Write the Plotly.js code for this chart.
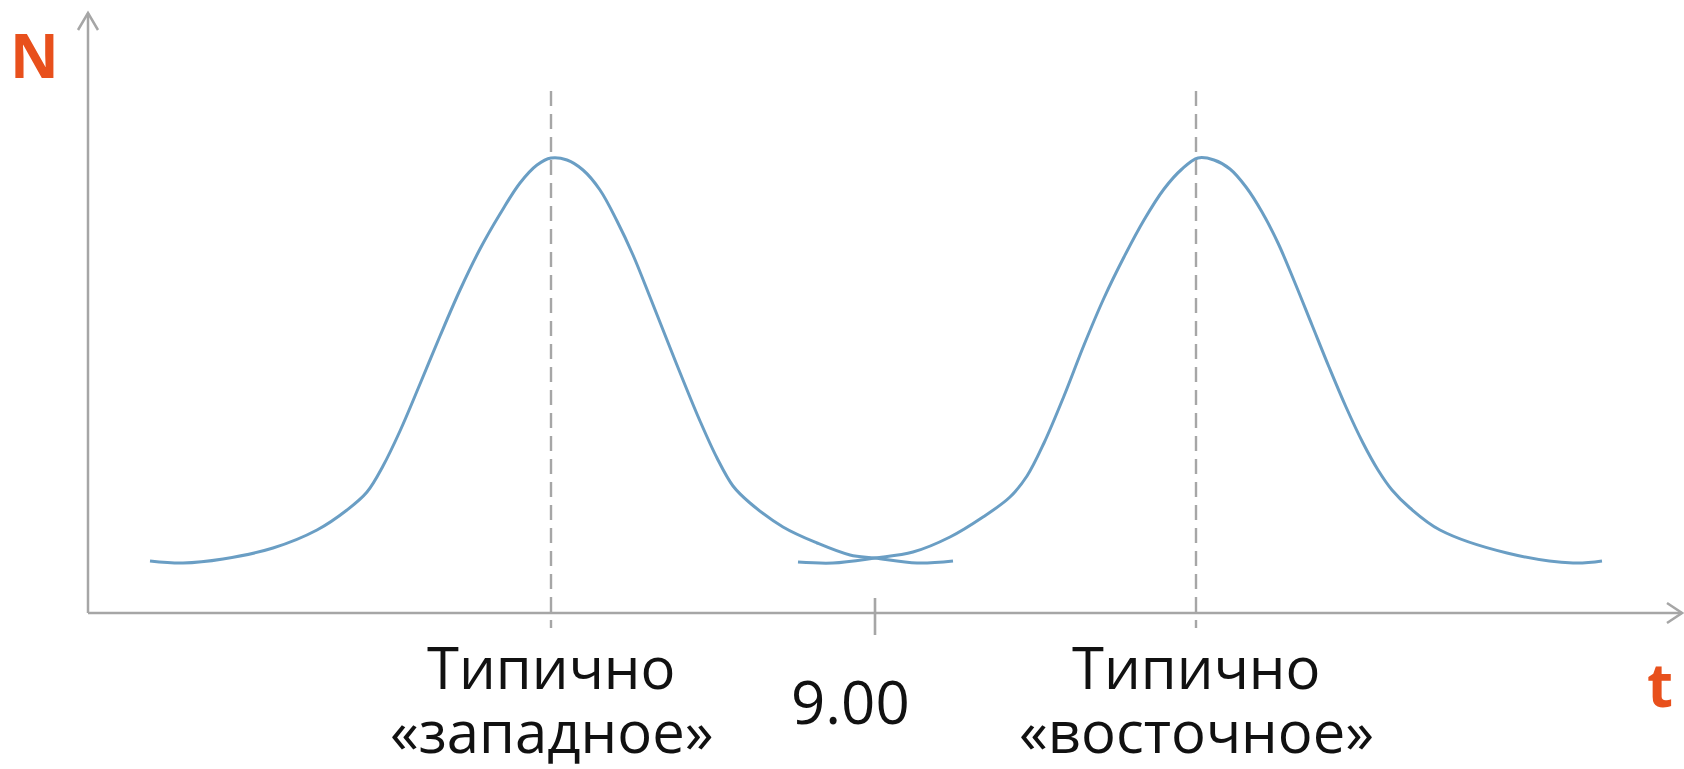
<!DOCTYPE html>
<html>
<head>
<meta charset="utf-8">
<script src="https://cdn.plot.ly/plotly-3.0.1.min.js"></script>
<style>html,body{margin:0;padding:0;background:#fff;}#chart{width:1684px;height:769px;}</style>
</head>
<body>
<div id="chart"></div>
<script>
// Curve points (x = horizontal position, y = vertical position, screen-like units, y grows downward)
const westX = [150,183,223,273,317,347,367,383,400,420,440,460,480,500,520,537,551,567,583,600,617,633,650,667,683,700,717,733,750,783,817,850,875,917,953];
const westY = [561,563,559,548,530,510,492,466,431,384,336,290,249,214,183,165,158,160,170,190,221,255,297,340,380,421,458,486,503,527,543,555,558,563,561];
const eastX = [798,833,875,913,950,983,1010,1027,1044,1064,1084,1104,1124,1144,1164,1182,1198,1214,1230,1246,1262,1278,1295,1312,1329,1346,1363,1378,1392,1410,1440,1507,1573,1602];
const eastY = [562,563,558,552,537,517,497,476,443,396,345,298,257,220,189,169,158,160,169,187,212,243,283,325,367,407,443,470,490,508,530,553,563,561];

const peakX = [551, 1196];          // dashed guide lines at the peaks
const tickX = [875];                 // the 9.00 tick
const tickLabels = ['9.00'];
const labelLine1 = ['Типично', 'Типично'];
const labelLine2 = ['«западное»', '«восточное»'];
const axisNames = ['N', 't'];

// axis frame (origin, ends)
const originX = 88, originY = 613, xEnd = 1682, yEnd = 13;

const blue = '#6A9EC4';
const grey = '#A6A6A6';
const orange = '#E8501C';
const txtFont = 'Open Sans, Noto Sans, sans-serif';

const curveLine = {color: blue, width: 3, shape: 'spline', smoothing: 1, simplify: false};
const traces = [
  {x: westX, y: westY, mode: 'lines', line: curveLine, hoverinfo: 'skip'},
  {x: eastX, y: eastY, mode: 'lines', line: curveLine, hoverinfo: 'skip'}
];

const shapes = [];
// axes
shapes.push({type: 'line', xref: 'x', yref: 'y', x0: originX, y0: originY, x1: xEnd, y1: originY, line: {color: grey, width: 2.5}});
shapes.push({type: 'line', xref: 'x', yref: 'y', x0: originX, y0: originY, x1: originX, y1: yEnd, line: {color: grey, width: 2.5}});
// arrow heads (open chevrons)
shapes.push({type: 'path', xref: 'x', yref: 'y', path: `M ${originX-10} ${yEnd+17} L ${originX} ${yEnd} L ${originX+10} ${yEnd+17}`, line: {color: grey, width: 2.5}});
shapes.push({type: 'path', xref: 'x', yref: 'y', path: `M ${xEnd-15} ${originY-10} L ${xEnd} ${originY} L ${xEnd-15} ${originY+10}`, line: {color: grey, width: 2.5}});
// dashed guide lines
peakX.forEach(px => shapes.push({type: 'line', xref: 'x', yref: 'y', x0: px, y0: 91, x1: px, y1: 628, line: {color: grey, width: 2.4, dash: '15px,8px'}}));
// tick
tickX.forEach(tx => shapes.push({type: 'line', xref: 'x', yref: 'y', x0: tx, y0: 598, x1: tx, y1: 635, line: {color: grey, width: 2.6}}));

const annotations = [];
const ann = (text, x, y, size, color, bold) => ({
  text: bold ? '<b>' + text + '</b>' : text, x: x, y: y, xref: 'x', yref: 'y',
  showarrow: false, xanchor: 'center', yanchor: 'middle',
  font: {family: txtFont, size: size, color: color}
});
annotations.push(ann(axisNames[0], 34, 55, 60, orange, true));
annotations.push(ann(axisNames[1], 1660, 684, 60, orange, true));
tickLabels.forEach((t, i) => annotations.push(ann(t, 850, 701, 60, '#111111', false)));
peakX.forEach((px, i) => {
  annotations.push(ann(labelLine1[i], px, 666, 58, '#111111', false));
  annotations.push(ann(labelLine2[i], px, 730, 58, '#111111', false));
});

const layout = {
  width: 1684, height: 769,
  margin: {l: 0, r: 0, t: 0, b: 0, pad: 0},
  paper_bgcolor: '#ffffff', plot_bgcolor: '#ffffff',
  showlegend: false,
  xaxis: {range: [0, 1684], visible: false, fixedrange: true},
  yaxis: {range: [769, 0], visible: false, fixedrange: true},
  shapes: shapes,
  annotations: annotations
};

Plotly.newPlot('chart', traces, layout, {staticPlot: true, displayModeBar: false});
</script>
</body>
</html>
